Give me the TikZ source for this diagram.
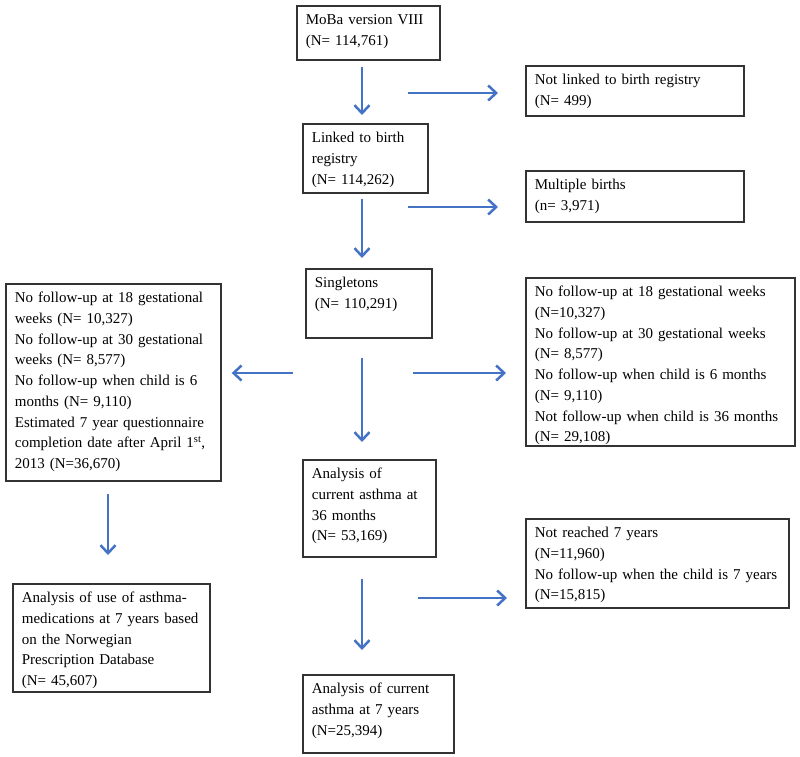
\documentclass[tikz,border=0pt]{standalone}
\usepackage{fontspec}
\setmainfont{Liberation Serif}
\usetikzlibrary{arrows.meta}
\definecolor{flowblue}{RGB}{68,114,196}

\begin{document}
\begin{tikzpicture}[x=1pt, y=1pt,
    box/.style={draw=black!80, line width=1.7pt, anchor=north west, align=left,
        inner xsep=9pt, inner ysep=9pt, text height=10pt,
        font=\fontsize{15}{20.7}\selectfont},
    flow/.style={draw=flowblue, line width=2.5pt,
        -{Straight Barb[length=8pt,width=15pt]}}]
    \useasboundingbox (0,0) rectangle (800,-756);

    % Define points
    \coordinate (spine) at (362,0);
    \coordinate (lspine) at (108,0);
    \coordinate (s1) at (408,-93);
    \coordinate (s2) at (408,-207);
    \coordinate (s3) at (293,-373);
    \coordinate (s4) at (413,-373);
    \coordinate (s5) at (418,-598);

    % Draw boxes
    \node[box, text width=125pt, text depth=26pt] (moba) at (296,-5)
        {MoBa version VIII\\(N= 114,761)};
    \node[box, text width=200pt, text depth=22pt] (notlinked) at (525,-65)
        {Not linked to birth registry\\(N= 499)};
    \node[box, text width=107pt, text depth=41pt] (linked) at (302,-123)
        {Linked to birth\\registry\\(N= 114,262)};
    \node[box, text width=200pt, text depth=23pt] (multi) at (525,-170)
        {Multiple births\\(n= 3,971)};
    \node[box, text width=108pt, text depth=41pt] (single) at (305,-268)
        {Singletons\\(N= 110,291)};
    \node[box, text width=197pt, text depth=169pt] (left) at (5,-283)
        {No follow-up at 18 gestational\\weeks (N= 10,327)\\
         No follow-up at 30 gestational\\weeks (N= 8,577)\\
         No follow-up when child is 6\\months (N= 9,110)\\
         Estimated 7 year questionnaire\\completion date after April 1\textsuperscript{st},\\
         2013 (N=36,670)};
    \node[box, text width=251pt, text depth=140pt] (right) at (525,-277)
        {No follow-up at 18 gestational weeks\\(N=10,327)\\
         No follow-up at 30 gestational weeks\\(N= 8,577)\\
         No follow-up when child is 6 months\\(N= 9,110)\\
         Not follow-up when child is 36 months\\(N= 29,108)};
    \node[box, text width=115pt, text depth=69pt] (a36) at (302,-459)
        {Analysis of\\current asthma at\\36 months\\(N= 53,169)};
    \node[box, text width=245pt, text depth=61pt] (notreached) at (525,-518)
        {Not reached 7 years\\(N=11,960)\\
         No follow-up when the child is 7 years\\(N=15,815)};
    \node[box, text width=179pt, text depth=80pt] (prescr) at (12,-583)
        {Analysis of use of asthma-\\medications at 7 years based\\on the Norwegian\\
         Prescription Database\\(N= 45,607)};
    \node[box, text width=133pt, text depth=50pt] (a7) at (302,-674)
        {Analysis of current\\asthma at 7 years\\(N=25,394)};

    % Draw arrows down the middle
    \draw[flow, shorten <=6pt, shorten >=8pt] (moba.south -| spine) -- (linked.north -| spine);
    \draw[flow, shorten <=5pt, shorten >=10pt] (linked.south -| spine) -- (single.north -| spine);
    \draw[flow, shorten <=19pt, shorten >=17pt] (single.south -| spine) -- (a36.north -| spine);
    \draw[flow, shorten <=21pt, shorten >=24pt] (a36.south -| spine) -- (a7.north -| spine);
    \draw[flow, shorten <=12pt, shorten >=28pt] (left.south -| lspine) -- (prescr.north -| lspine);

    % Draw side arrows
    \draw[flow, shorten >=27pt] (s1) -- (s1 -| notlinked.west);
    \draw[flow, shorten >=27pt] (s2) -- (s2 -| multi.west);
    \draw[flow, shorten >=10pt] (s3) -- (s3 -| left.east);
    \draw[flow, shorten >=19pt] (s4) -- (s4 -| right.west);
    \draw[flow, shorten >=18pt] (s5) -- (s5 -| notreached.west);
\end{tikzpicture}
\end{document}
